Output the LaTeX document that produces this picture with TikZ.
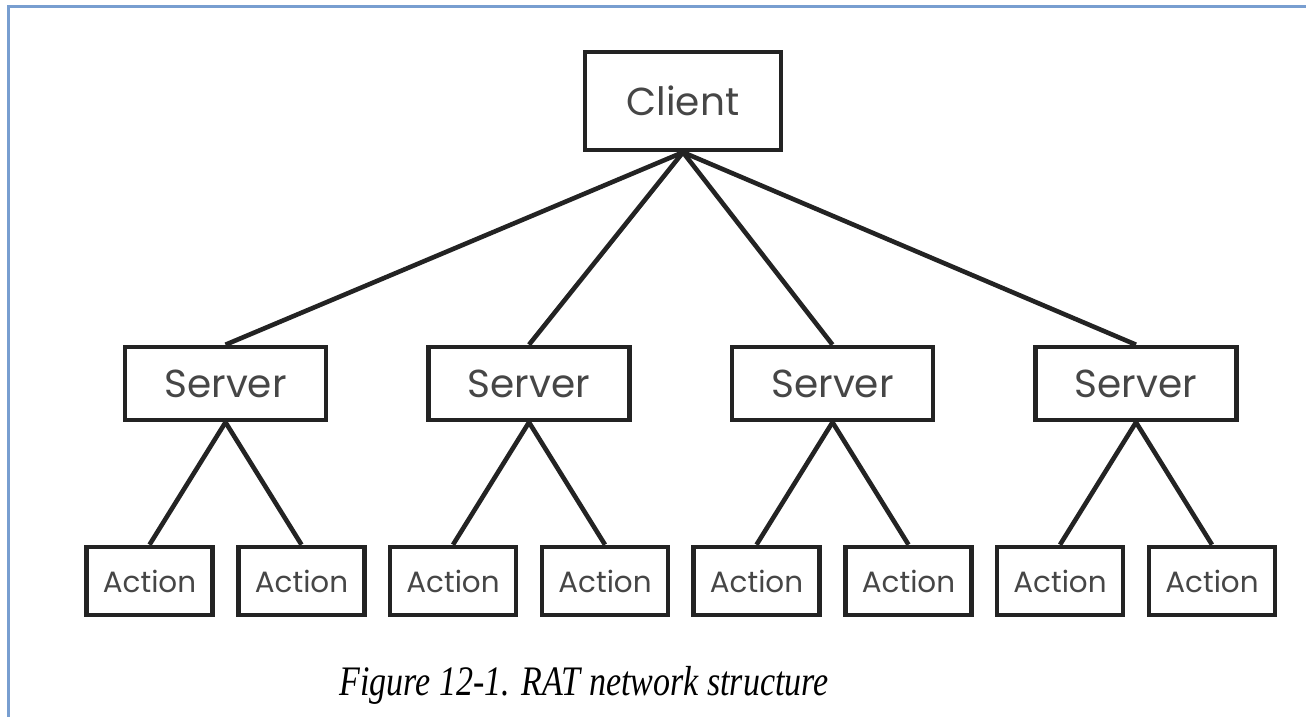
\documentclass[tikz,border=0pt]{standalone}
\usepackage{fontspec}
\setmainfont{Poppins}
\newfontfamily\capfont{Liberation Serif}
\definecolor{frameblue}{RGB}{120,158,208}
\definecolor{boxline}{RGB}{35,35,35}
\definecolor{boxtext}{RGB}{70,70,70}
\tikzset{
  box/.style={draw=boxline, line width=2.3pt, inner sep=0pt, text=boxtext, fill=white},
  clientbox/.style={box, minimum width=98pt, minimum height=49pt, font=\fontsize{19.5pt}{22pt}\selectfont},
  serverbox/.style={box, minimum width=100.5pt, minimum height=36.5pt, font=\fontsize{19.5pt}{22pt}\selectfont},
  actionbox/.style={box, minimum width=63pt, minimum height=34pt, font=\fontsize{14.7pt}{17pt}\selectfont},
  link/.style={draw=boxline, line width=2.3pt},
}
\begin{document}
\begin{tikzpicture}[x=0.5pt,y=-0.5pt]
\useasboundingbox (0,0) rectangle (1306,717);
\fill[white] (0,0) rectangle (1306,717);
\draw[frameblue, line width=1.5pt] (8,717) -- (8,7) -- (1306,7);
\node[clientbox] (client) at (683,101) {Client};
\foreach \i/\x in {1/225.5,2/529,3/832.5,4/1136}{
  \node[serverbox] (s\i) at (\x,383.5) {Server};
  \node[actionbox] (a\i l) at (\x-76,581) {Action};
  \node[actionbox] (a\i r) at (\x+76,581) {Action};
  \draw[link] (client.south) -- (s\i.north);
  \draw[link] (s\i.south) -- (a\i l.north);
  \draw[link] (s\i.south) -- (a\i r.north);
}
\node[anchor=base, inner sep=0pt, font=\capfont\itshape\fontsize{21pt}{24pt}\selectfont] (caption) at (584,695) {\scalebox{0.81}[1]{Figure 12-1. RAT network structure}};
\end{tikzpicture}
\end{document}
